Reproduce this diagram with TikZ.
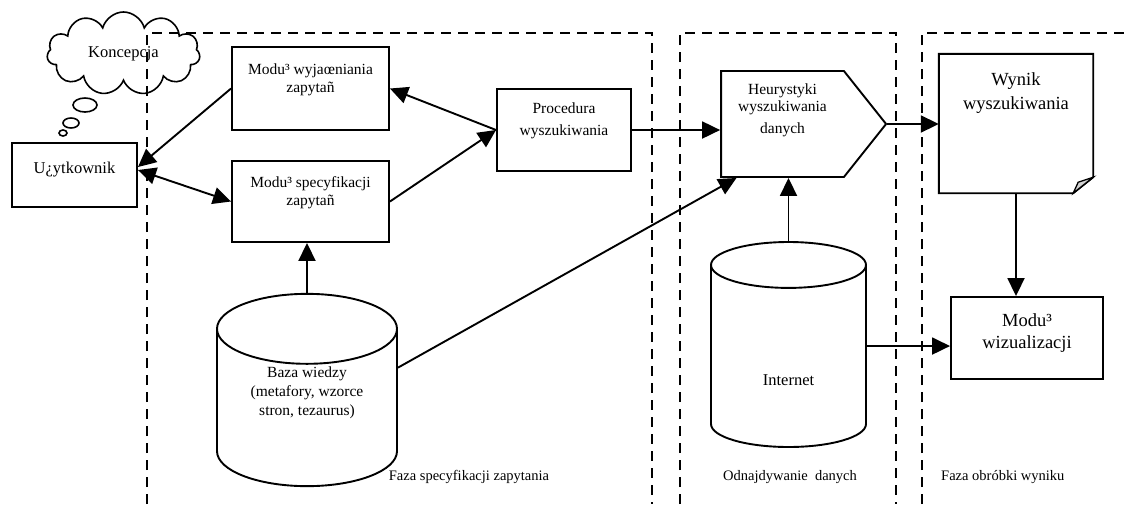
\documentclass[tikz,border=0pt]{standalone}
\usepackage{fontspec}
\setmainfont{Liberation Serif}
\usetikzlibrary{arrows.meta,positioning,shapes.geometric,shapes.symbols}

\begin{document}
\begin{tikzpicture}[
    x=1pt, y=-1pt,
    every node/.style={font=\fontsize{15.5}{17.5}\selectfont, align=center, inner sep=2pt},
    box/.style={draw, line width=1.9pt},
    lift/.style={text depth=#1},
    db/.style={draw, line width=1.9pt, cylinder, shape border rotate=90, anchor=shape center},
    phase/.style={line width=1.8pt, dash pattern=on 10pt off 7pt},
    arrow/.style={-{Triangle[length=18pt,width=17pt]}, line width=1.9pt},
    twoway/.style={{Triangle[length=18pt,width=17pt]}-{Triangle[length=18pt,width=17pt]}, line width=1.9pt},
    bubble/.style={draw, line width=1.6pt, ellipse, inner sep=0pt}
]
\useasboundingbox (0,0) rectangle (1125,504);

% Phases
\draw[phase] (147,504) -- (147,33) -- (652,33) -- (652,504);
\draw[phase] (680,504) -- (680,33) -- (896,33) -- (896,504);
\draw[phase] (922,504) -- (922,33) -- (1125,33);

% User and his idea
\node[box, minimum width=125, minimum height=64, lift=14, font=\fontsize{16.5}{18}\selectfont] (uzyt) at (74.5,175) {U¿ytkownik};
\node[draw, line width=1.6pt, cloud, cloud puffs=11, aspect=1.9, minimum width=153, minimum height=83, inner sep=0pt, font=\fontsize{16.5}{18}\selectfont] (idea) at (123.5,53.5) {Koncepcja};
\node[bubble, minimum width=24, minimum height=14] (b1) at (85,105) {};
\node[bubble, minimum width=16, minimum height=10] (b2) at (71,123) {};
\node[bubble, minimum width=8, minimum height=6] (b3) at (63,133) {};

% Query specification
\node[box, minimum width=157, minimum height=83, lift=21] (wyjas) at (310.5,88.5) {Modu³ wyjaœniania\\zapytañ};
\node[box, minimum width=157, minimum height=81, lift=21] (specyf) at (310.5,201.5) {Modu³ specyfikacji\\zapytañ};
\node[box, minimum width=134, minimum height=82, lift=21, font=\fontsize{15.5}{22}\selectfont] (proc) at (564,130) {Procedura\\wyszukiwania};
\node[db, minimum width=180, minimum height=166, aspect=0.6, lift=41, font=\fontsize{15.5}{19}\selectfont] (baza) at (307,390) {Baza wiedzy\\(metafory, wzorce\\stron, tezaurus)};

% Data retrieval
\node[draw, line width=1.9pt, signal, signal to=east, signal pointer angle=103, minimum width=165, minimum height=106, lift=31] (heur) at (782.5,124) {Heurystyki\\wyszukiwania\\[4pt]danych};
\node[db, minimum width=155, minimum height=205, aspect=0.83, text height=54, font=\fontsize{16.5}{19}\selectfont] (inet) at (788.5,344.5) {Internet};

% Result processing
\node[minimum width=154, minimum height=139, lift=65, font=\fontsize{18.5}{24}\selectfont] (wynik) at (1016,123.5) {Wynik\\wyszukiwania};
\draw[line width=1.9pt] (wynik.north west) -- (wynik.north east) -- ([yshift=16]wynik.south east) -- ([xshift=-20]wynik.south east) -- (wynik.south west) -- cycle;
\draw[line width=1.3pt, fill=gray!35] ([xshift=-20]wynik.south east) -- ([xshift=-15,yshift=11]wynik.south east) -- ([yshift=16]wynik.south east) -- cycle;
\node[box, minimum width=152, minimum height=82, lift=13, font=\fontsize{18.5}{22}\selectfont] (wiz) at (1027,338) {Modu³\\wizualizacji};

% Phase names
\node[anchor=base, font=\fontsize{14.5}{17}\selectfont] (lab1) at (469,480) {Faza specyfikacji zapytania};
\begin{scope}
\clip (700,440) rectangle (858,504);
\node[anchor=base west, font=\fontsize{14.5}{17}\selectfont] (lab2) at (721,480) {Odnajdywanie\ \ danych};
\end{scope}
\node[anchor=base west, font=\fontsize{14.5}{17}\selectfont] (lab3) at (939,480) {Faza obróbki wyniku};

% Connectors
\draw[arrow] (wyjas.west) -- ([yshift=8]uzyt.east);
\draw[twoway] ([yshift=5]uzyt.east) -- (specyf.west);
\draw[arrow] (proc.west) -- (wyjas.east);
\draw[arrow] (specyf.east) -- (proc.west);
\draw[arrow] (baza.north) -- (baza.north |- specyf.south);
\draw[arrow] ([yshift=44]baza.east) -- ([xshift=-46]heur.south);
\draw[arrow] (proc.east) -- (proc.east -| heur.west);
\draw[arrow] (inet.north) -- (inet.north |- heur.south);
\draw[arrow] (heur.east) -- (heur.east -| wynik.west);
\draw[arrow] (wynik.south) -- (wynik.south |- wiz.north);
\draw[arrow] ([yshift=13]inet.east) -- ([yshift=13]inet.east -| wiz.west);

\end{tikzpicture}
\end{document}
